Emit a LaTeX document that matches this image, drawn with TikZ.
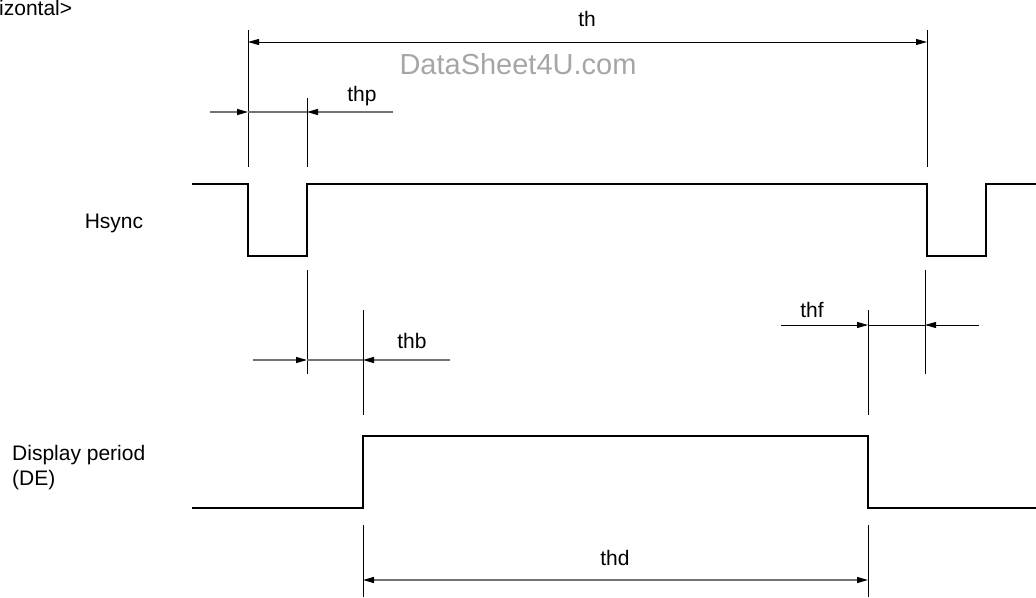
\documentclass[tikz,border=0pt]{standalone}
\usepackage{fontspec}
\setmainfont{Liberation Sans}
\usetikzlibrary{arrows.meta}

\begin{document}
\begin{tikzpicture}[
    x=1pt, y=-1pt,
    signal/.style={line width=2.6pt, line join=miter},
    ext/.style={line width=0.9pt},
    dim/.style={line width=1.4pt, black!55},
    tip/.style={-{Triangle[length=11pt, width=6pt, black]}},
    lbl/.style={font=\fontsize{21}{25}\selectfont, anchor=base, inner sep=0pt},
    wmark/.style={font=\fontsize{29}{34}\selectfont, text=black!35, inner sep=0pt}
]
\useasboundingbox (0,0) rectangle (1036,597);

% --- Labels ---
\node[lbl, anchor=base west] (head) at (-1,15) {izontal>};
\node[lbl] (hslbl) at (114,228) {Hsync};
\node[lbl, anchor=base west, align=left] (delbl) at (12,485) {Display period\\(DE)};
\node[wmark] (wm) at (518,64) {DataSheet4U.com};

% --- Hsync signal ---
\coordinate (hsA) at (248,184);
\coordinate (hsB) at (307,184);
\coordinate (hsC) at (927,184);
\coordinate (hsD) at (986,184);
\draw[signal] (192,184) -- (hsA) -- (248,256) -- (307,256) -- (hsB)
    -- (hsC) -- (927,256) -- (986,256) -- (hsD) -- (1036,184);

% --- DE signal ---
\coordinate (deA) at (363,508);
\coordinate (deB) at (868,508);
\draw[signal] (192,508) -- (deA) -- (363,436) -- (868,436) -- (deB) -- (1036,508);

% --- th ---
\coordinate (thL) at (248,42);
\coordinate (thR) at (927,42);
\draw[ext] (248,30) -- (248,167);
\draw[ext] (927,30) -- (927,167);
\draw[ext, black, {Triangle[length=11pt, width=6pt]}-{Triangle[length=11pt, width=6pt]}] (thL) -- (thR);
\node[lbl] (th) at (587,27) {th};

% --- thp ---
\coordinate (thpL) at (248,112);
\coordinate (thpR) at (307,112);
\draw[ext] (307,98) -- (307,167);
\draw[dim] (thpL) -- (thpR);
\draw[dim, tip] (210,112) -- (thpL);
\draw[dim, tip] (393,112) -- (thpR);
\node[lbl] (thp) at (362,101) {thp};

% --- thb ---
\coordinate (thbL) at (307,360);
\coordinate (thbR) at (363,360);
\draw[ext] (307,270) -- (307,374);
\draw[ext] (363,310) -- (363,415);
\draw[dim] (thbL) -- (thbR);
\draw[dim, tip] (253,360) -- (thbL);
\draw[dim, tip] (450,360) -- (thbR);
\node[lbl] (thb) at (412,348) {thb};

% --- thf ---
\coordinate (thfL) at (868,325);
\coordinate (thfR) at (925,325);
\draw[ext] (868,310) -- (868,415);
\draw[ext] (925,270) -- (925,374);
\draw[ext] (thfL) -- (thfR);
\draw[ext, tip] (781,325) -- (thfL);
\draw[ext, tip] (979,325) -- (thfR);
\node[lbl] (thf) at (812,317) {thf};

% --- thd ---
\coordinate (thdL) at (363,580);
\coordinate (thdR) at (868,580);
\draw[ext] (363,525) -- (363,597);
\draw[ext] (868,525) -- (868,597);
\draw[dim, {Triangle[length=11pt, width=6pt, black]}-{Triangle[length=11pt, width=6pt, black]}] (thdL) -- (thdR);
\node[lbl] (thd) at (615,565) {thd};

\end{tikzpicture}
\end{document}
